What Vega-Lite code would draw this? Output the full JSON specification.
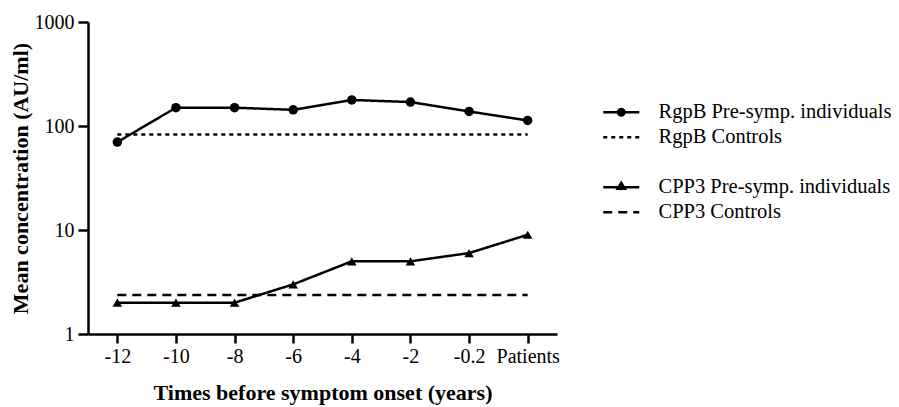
{
  "$schema": "https://vega.github.io/schema/vega-lite/v6.json",
  "width": 469,
  "height": 312,
  "autosize": {"type": "none"},
  "padding": {"left": 88, "top": 22, "right": 342, "bottom": 73},
  "background": "white",
  "config": {
    "view": {"stroke": null},
    "font": "Liberation Serif",
    "axis": {
      "domainColor": "black",
      "domainWidth": 2.5,
      "tickColor": "black",
      "tickWidth": 2.5,
      "labelColor": "black",
      "labelFont": "Liberation Serif",
      "labelFontSize": 20,
      "titleColor": "black",
      "titleFont": "Liberation Serif",
      "titleFontWeight": "bold",
      "titleFontSize": 22,
      "grid": false
    }
  },
  "data": {
    "values": [
      {"series": "RgpB Pre-symp. individuals", "time": "-12", "value": 70},
      {"series": "RgpB Pre-symp. individuals", "time": "-10", "value": 150},
      {"series": "RgpB Pre-symp. individuals", "time": "-8", "value": 150},
      {"series": "RgpB Pre-symp. individuals", "time": "-6", "value": 143},
      {"series": "RgpB Pre-symp. individuals", "time": "-4", "value": 178},
      {"series": "RgpB Pre-symp. individuals", "time": "-2", "value": 170},
      {"series": "RgpB Pre-symp. individuals", "time": "-0.2", "value": 138},
      {"series": "RgpB Pre-symp. individuals", "time": "Patients", "value": 113},
      {"series": "RgpB Controls", "time": "-12", "value": 83},
      {"series": "RgpB Controls", "time": "Patients", "value": 83},
      {"series": "CPP3 Pre-symp. individuals", "time": "-12", "value": 2},
      {"series": "CPP3 Pre-symp. individuals", "time": "-10", "value": 2},
      {"series": "CPP3 Pre-symp. individuals", "time": "-8", "value": 2},
      {"series": "CPP3 Pre-symp. individuals", "time": "-6", "value": 3},
      {"series": "CPP3 Pre-symp. individuals", "time": "-4", "value": 5},
      {"series": "CPP3 Pre-symp. individuals", "time": "-2", "value": 5},
      {"series": "CPP3 Pre-symp. individuals", "time": "-0.2", "value": 6},
      {"series": "CPP3 Pre-symp. individuals", "time": "Patients", "value": 9},
      {"series": "CPP3 Controls", "time": "-12", "value": 2.37},
      {"series": "CPP3 Controls", "time": "Patients", "value": 2.37}
    ]
  },
  "layer": [
    {
      "mark": {"type": "line", "strokeWidth": 2.5, "color": "black"},
      "encoding": {
        "x": {
          "field": "time",
          "type": "ordinal",
          "sort": ["-12", "-10", "-8", "-6", "-4", "-2", "-0.2", "Patients"],
          "scale": {"type": "point", "padding": 0.5},
          "axis": {"title": "Times before symptom onset  (years)", "labelAngle": 0, "tickSize": 9, "labelPadding": 3, "titlePadding": 16}
        },
        "y": {
          "field": "value",
          "type": "quantitative",
          "scale": {"type": "log", "domain": [1, 1000]},
          "axis": {"title": "Mean concentration (AU/ml)", "values": [1, 10, 100, 1000], "format": "d", "tickSize": 10, "labelPadding": 4, "titlePadding": 2}
        },
        "strokeDash": {
          "field": "series",
          "type": "nominal",
          "scale": {
            "domain": ["RgpB Pre-symp. individuals", "RgpB Controls", " ", "CPP3 Pre-symp. individuals", "CPP3 Controls"],
            "range": [[1, 0], [4, 4], [1, 0], [1, 0], [9, 6]]
          },
          "legend": {
            "title": null,
            "orient": "none",
            "legendX": 523,
            "legendY": 80,
            "padding": 0,
            "labelFont": "Liberation Serif",
            "labelFontSize": 20.5,
            "labelColor": "black",
            "labelLimit": 400,
            "labelOffset": 27,
            "symbolSize": 256,
            "symbolStrokeWidth": 2.5,
            "symbolStrokeColor": "black",
            "symbolFillColor": "black",
            "rowPadding": 4,
            "encode": {
              "symbols": {
                "update": {
                  "shape": {"signal": "datum.value === 'RgpB Pre-symp. individuals' ? 'M-2.25,0H2.25M0.4,0L0.346,0.2L0.2,0.346L0,0.4L-0.2,0.346L-0.346,0.2L-0.4,0L-0.346,-0.2L-0.2,-0.346L0,-0.4L0.2,-0.346L0.346,-0.2Z' : datum.value === 'CPP3 Pre-symp. individuals' ? 'M-2.25,0H2.25M-0.45,0.2L0,-0.55L0.45,0.2Z' : 'M-2.25,0H2.25'"},
                  "fill": {"value": "black"},
                  "stroke": {"value": "black"},
                  "strokeWidth": {"value": 2.5},
                  "opacity": {"signal": "datum.value === ' ' ? 0 : 1"}
                }
              }
            }
          }
        }
      }
    },
    {
      "transform": [{"filter": "datum.series === 'RgpB Pre-symp. individuals' || datum.series === 'CPP3 Pre-symp. individuals'"}],
      "mark": {"type": "point", "filled": true, "color": "black", "size": 90, "opacity": 1},
      "encoding": {
        "x": {"field": "time", "type": "ordinal", "sort": ["-12", "-10", "-8", "-6", "-4", "-2", "-0.2", "Patients"]},
        "y": {"field": "value", "type": "quantitative"},
        "shape": {
          "field": "series",
          "type": "nominal",
          "scale": {"domain": ["RgpB Pre-symp. individuals", "CPP3 Pre-symp. individuals"], "range": ["circle", "triangle-up"]},
          "legend": null
        }
      }
    }
  ]
}
